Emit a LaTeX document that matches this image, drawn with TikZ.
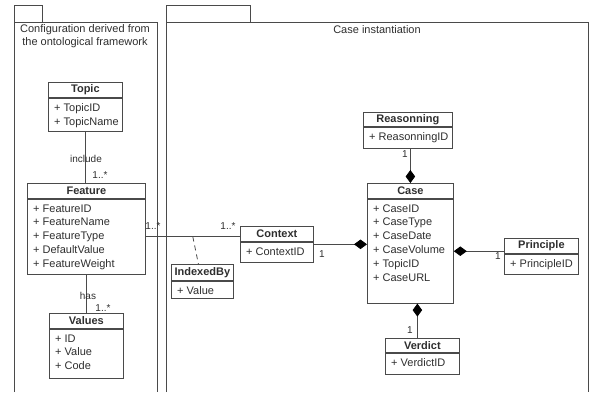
\documentclass[tikz,border=0pt]{standalone}
\usepackage{fontspec}
\setmainfont{Liberation Sans}
\usetikzlibrary{arrows.meta,calc}
\definecolor{ink}{HTML}{2E2E2E}
\definecolor{edge}{HTML}{4A4A4A}

% UML class: name, x, y, width, header height, body height, title, attributes
\newcommand\umlclass[8]{%
  \node[hdr, minimum width=#4, minimum height=#5] (#1H) at (#2,#3) {#7};
  \node[bodybox, minimum width=#4, minimum height=#6] (#1B) at (#1H.south west) {};
  \node[attr] (#1A) at ($(#1B.north west)+(6,5.5)$) {#8};
}

\begin{document}
\begin{tikzpicture}[x=1pt,y=-1pt,
  every node/.style={text=ink},
  hdr/.style={draw=edge, line width=0.8pt, inner sep=0pt, anchor=north west,
    font=\bfseries\fontsize{11}{13}\selectfont},
  bodybox/.style={draw=edge, line width=0.8pt, inner sep=0pt, anchor=north west},
  attr/.style={anchor=north west, align=left, inner sep=0pt,
    font=\fontsize{11}{13.8}\selectfont},
  frame/.style={draw=edge, line width=0.8pt},
  title/.style={inner sep=0pt, font=\fontsize{11}{13}\selectfont, align=center},
  assoc/.style={draw=edge, line width=0.8pt},
  comp/.style={draw=edge, line width=0.8pt},
  blackdiamond/.tip={Diamond[length=13pt, width=9.5pt, color=black, fill=black]},
  lbl/.style={inner sep=0pt, font=\fontsize{10}{12}\selectfont}
]
\useasboundingbox (0,0) rectangle (590,392);

% package frames
\draw[frame] (14,22) rectangle (42,5);
\draw[frame] (14,392) -- (14,22) -- (157,22) -- (157,392);
\draw[frame] (166,22) rectangle (250,5);
\draw[frame] (166,392) -- (166,22) -- (588,22) -- (588,392);
\node[title] (cfgTitle) at (85,36) {Configuration derived from\\the ontological framework};
\node[title] (caseTitle) at (377,30) {Case instantiation};

% classes
\umlclass{topic}{48}{82}{74}{15}{33}{Topic}{+ TopicID\\+ TopicName}
\umlclass{feat}{27}{183}{118}{15}{75}{Feature}{+ FeatureID\\+ FeatureName\\+ FeatureType\\+ DefaultValue\\+ FeatureWeight}
\umlclass{val}{49}{313}{74}{15}{49}{Values}{+ ID\\+ Value\\+ Code}
\umlclass{ctx}{240}{226}{73}{15}{20}{Context}{+ ContextID}
\umlclass{idx}{171}{264}{62}{16}{17}{IndexedBy}{+ Value}
\umlclass{case}{367}{183}{86}{15}{104}{Case}{+ CaseID\\+ CaseType\\+ CaseDate\\+ CaseVolume\\+ TopicID\\+ CaseURL}
\umlclass{prin}{504}{238}{74}{15}{20}{Principle}{+ PrincipleID}
\umlclass{reas}{363}{112}{89}{14}{21}{Reasonning}{+ ReasonningID}
\umlclass{ver}{385}{338}{74}{14}{21}{Verdict}{+ VerdictID}

% associations
\draw[assoc] (topicB.south) -- (topicB.south |- featH.north);
\node[lbl] (inclL) at (86,159) {include};
\node[lbl] (inclM) at (100,175) {1..*};

\draw[assoc] (featB.south) -- (featB.south |- valH.north);
\node[lbl] (hasL) at (88,296) {has};
\node[lbl] (hasM) at (103,308) {1..*};

\draw[assoc] (featB.east) -- (featB.east -| ctxH.west);
\node[lbl] (fcM1) at (153,226) {1..*};
\node[lbl] (fcM2) at (228,226) {1..*};

\coordinate (idxJoin) at ($(featB.east)+(47,0)$);
\draw[assoc, dash pattern=on 5pt off 4pt] (idxJoin) -- ([xshift=-4pt]idxH.north);

% compositions into Case
\coordinate (ctxMid) at ($(ctxH.north east)!0.5!(ctxB.south east)$);
\draw[comp, -blackdiamond] (ctxMid) -- (ctxMid -| caseB.west);
\node[lbl] (ctxM) at (322,254) {1};

\draw[comp, blackdiamond-] (caseB.east) -- (caseB.east -| prinH.west);
\node[lbl] (prinM) at (498,256) {1};

\draw[comp, -blackdiamond] (reasB.south -| caseH.north) -- (caseH.north);
\node[lbl] (reasM) at (405,154) {1};

\coordinate (caseFoot) at ($(caseB.south)+(7,0)$);
\draw[comp, blackdiamond-] (caseFoot) -- (caseFoot |- verH.north);
\node[lbl] (verM) at (410,330) {1};
\end{tikzpicture}
\end{document}
